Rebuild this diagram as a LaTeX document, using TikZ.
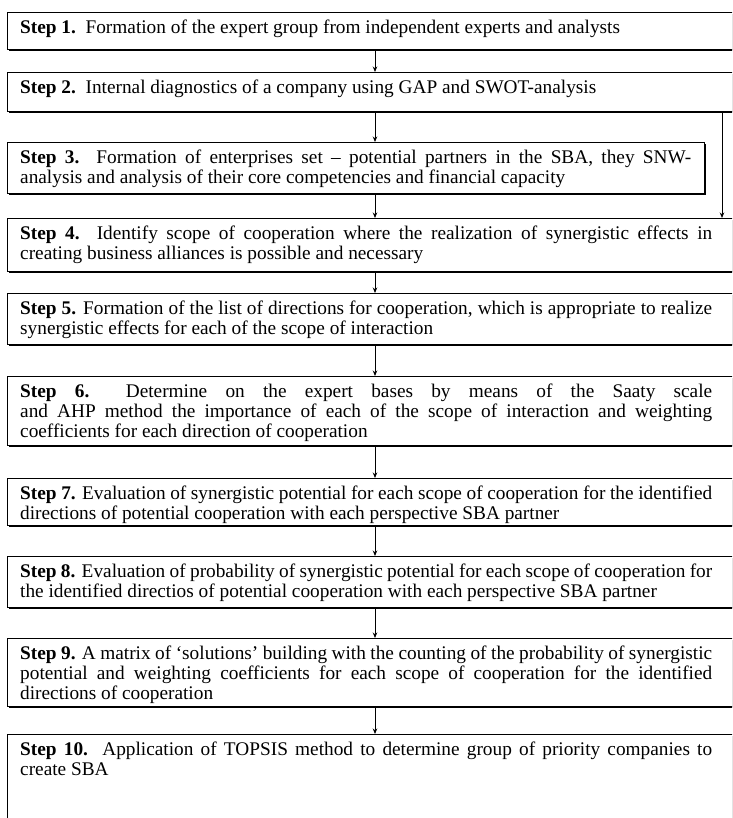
\documentclass[tikz,border=0pt]{standalone}
\usepackage{fontspec}
\setmainfont{Liberation Serif}
\usetikzlibrary{shadows,arrows.meta}
\tikzset{
  stepbox/.style={draw, line width=0.8pt, fill=white, anchor=north west,
    inner sep=0pt, minimum width=#1,
    drop shadow={shadow xshift=1.8pt, shadow yshift=-1.8pt, fill=black, opacity=1}},
  stepbox/.default=745pt,
  steptext/.style={anchor=north west, inner sep=0pt, text width=#1, align=justify,
    font=\fontsize{19.3}{20}\selectfont},
  steptext/.default=692pt,
  flow/.style={-{Stealth[length=5.5pt,width=4.5pt]}, line width=0.8pt},
}
\newcommand\toppad{\rule{0pt}{21.5pt}}
\begin{document}
\begin{tikzpicture}[x=1pt,y=-1pt]
\useasboundingbox (0,0) rectangle (732,818);
\clip (0,0) rectangle (732,818);
\fill[white] (0,0) rectangle (732,818);
\hyphenpenalty=10000
\coordinate (mid) at (375,0);
\coordinate (side) at (722,0);
% boxes
\node[stepbox, minimum height=37pt] (s1) at (7,12) {};
\node[stepbox, minimum height=39pt] (s2) at (7,72) {};
\node[stepbox=697pt, minimum height=51pt] (s3) at (7,142) {};
\node[stepbox, minimum height=53pt] (s4) at (7,218) {};
\node[stepbox, minimum height=51pt] (s5) at (7,293) {};
\node[stepbox, minimum height=69pt] (s6) at (7,376) {};
\node[stepbox, minimum height=47pt] (s7) at (7,478) {};
\node[stepbox, minimum height=51pt] (s8) at (7,556) {};
\node[stepbox, minimum height=68pt] (s9) at (7,638) {};
\node[stepbox, minimum height=100pt] (s10) at (7,734) {};
% texts
\node[steptext] (t1) at (20,12) {\toppad\textbf{Step 1.}\ \ Formation of the expert group from independent experts and analysts};
\node[steptext] (t2) at (20,72) {\toppad\textbf{Step 2.}\ \ Internal diagnostics of a company using GAP and SWOT-analysis};
\node[steptext=671pt] (t3) at (20,142) {\toppad\textbf{Step 3.} Formation of enterprises set – potential partners in the SBA, they SNW-\linebreak analysis and analysis of their core competencies and financial capacity};
\node[steptext] (t4) at (20,218) {\toppad\textbf{Step 4.}\ \ Identify scope of cooperation where the realization of synergistic effects in\linebreak creating business alliances is possible and necessary};
\node[steptext] (t5) at (20,293) {\toppad\textbf{Step 5.} Formation of the list of directions for cooperation, which is appropriate to realize\linebreak synergistic effects for each of the scope of interaction};
\node[steptext] (t6) at (20,376) {\toppad\textbf{Step 6.}\ \ Determine on the expert bases by means of the Saaty scale\linebreak and AHP method the importance of each of the scope of interaction and weighting\linebreak coefficients for each direction of cooperation};
\node[steptext] (t7) at (20,478) {\toppad\textbf{Step 7.} Evaluation of synergistic potential for each scope of cooperation for the identified\linebreak directions of potential cooperation with each perspective SBA partner};
\node[steptext] (t8) at (20,556) {\toppad\textbf{Step 8.} Evaluation of probability of synergistic potential for each scope of cooperation for\linebreak the identified directios of potential cooperation with each perspective SBA partner};
\node[steptext] (t9) at (20,638) {\toppad\textbf{Step 9.} A matrix of ‘solutions’ building with the counting of the probability of synergistic\linebreak potential and weighting coefficients for each scope of cooperation for the identified\linebreak directions of cooperation};
\node[steptext] (t10) at (20,734) {\toppad\textbf{Step 10.}\ \ Application of TOPSIS method to determine group of priority companies to\linebreak create SBA};
% connectors
\draw[flow] (s1.south -| mid) -- (s2.north -| mid);
\draw[flow] (s2.south -| mid) -- (s3.north -| mid);
\draw[flow] (s3.south -| mid) -- (s4.north -| mid);
\draw[flow] (s4.south -| mid) -- (s5.north -| mid);
\draw[flow] (s5.south -| mid) -- (s6.north -| mid);
\draw[flow] (s6.south -| mid) -- (s7.north -| mid);
\draw[flow] (s7.south -| mid) -- (s8.north -| mid);
\draw[flow] (s8.south -| mid) -- (s9.north -| mid);
\draw[flow] (s9.south -| mid) -- (s10.north -| mid);
\draw[flow] (s2.south -| side) -- (s4.north -| side);
\end{tikzpicture}
\end{document}
